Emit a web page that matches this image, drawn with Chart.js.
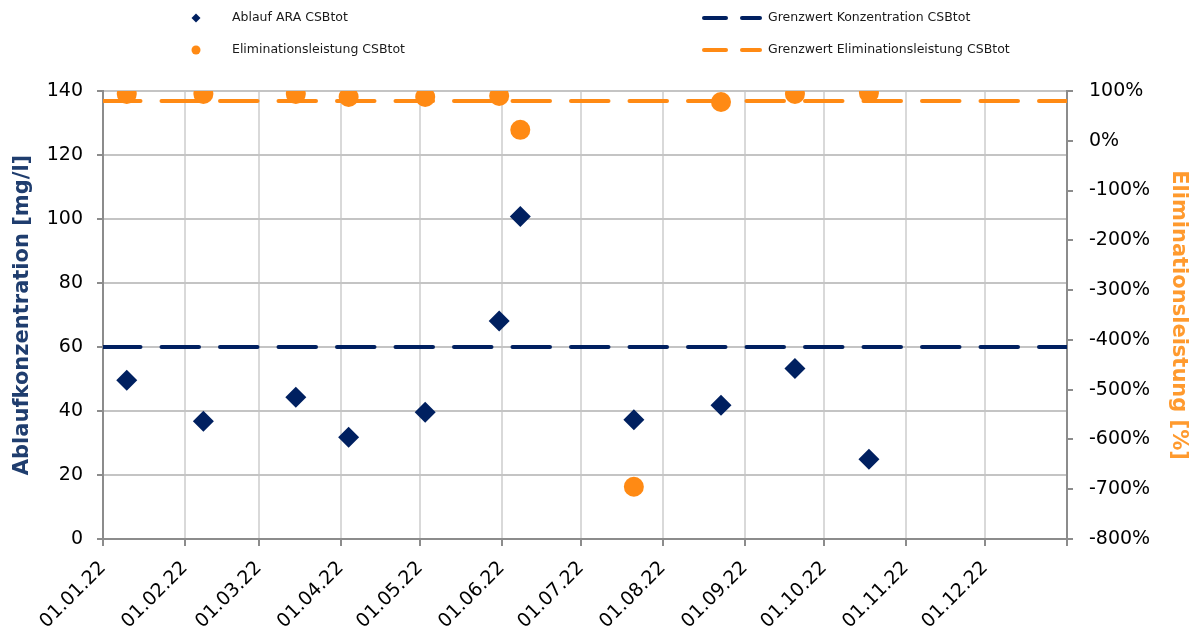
<!DOCTYPE html>
<html>
<head>
<meta charset="utf-8">
<script src="https://cdn.jsdelivr.net/npm/chart.js@4.4.1/dist/chart.umd.min.js"></script>
<style>
  body { margin: 0; background: #fff; }
  #wrap { position: relative; width: 1194px; height: 635px; }
</style>
</head>
<body>
<div id="wrap"><canvas id="csb-canvas"></canvas></div>
<script>
// Probenahmedaten (dd.mm.yy)
const sampleDates = ['10.01.22', '08.02.22', '15.03.22', '04.04.22', '03.05.22', '31.05.22',
  '08.06.22', '21.07.22', '23.08.22', '20.09.22', '18.10.22']
const ablaufCSB = [49.6, 36.8, 44.3, 31.8, 39.6, 68.1, 100.8, 37.3, 41.8, 53.3, 24.9]
const eliminationCSB = [94, 94, 94, 88, 88, 90, 22, -695, 78, 94, 96]

const grenzwertKonzentration = 60
const grenzwertElimination = 80

const monthLabels = ['01.01.22', '01.02.22', '01.03.22', '01.04.22', '01.05.22', '01.06.22',
  '01.07.22', '01.08.22', '01.09.22', '01.10.22', '01.11.22', '01.12.22']
const yearEnd = '01.01.23'

const NAVY = '#002060'
const ORANGE = '#ff8a14'
const FONT = '"DejaVu Sans", sans-serif'

function dayOfYear(s){
  const p = s.split('.')
  const t = Date.UTC(2000 + parseInt(p[2]), parseInt(p[1]) - 1, parseInt(p[0]))
  return Math.round((t - Date.UTC(2022, 0, 1)) / 86400000)
}

const xTicks = monthLabels.map(dayOfYear).concat([dayOfYear(yearEnd)])
const xMax = dayOfYear(yearEnd)

const ablaufPoints = sampleDates.map((d, i) => ({x: dayOfYear(d), y: ablaufCSB[i]}))
const elimPoints = sampleDates.map((d, i) => ({x: dayOfYear(d), y: eliminationCSB[i]}))

// Legende in zwei Spalten
const gridLegend = {
  id: 'gridLegend',
  afterDraw(chart){
    const ctx = chart.ctx
    ctx.save()
    ctx.font = '12.5px ' + FONT
    ctx.textBaseline = 'middle'
    ctx.textAlign = 'left'
    // diamond
    ctx.fillStyle = NAVY
    ctx.beginPath()
    ctx.moveTo(196, 13.5); ctx.lineTo(200.5, 18); ctx.lineTo(196, 22.5); ctx.lineTo(191.5, 18)
    ctx.closePath(); ctx.fill()
    // circle
    ctx.fillStyle = ORANGE
    ctx.beginPath(); ctx.arc(196, 50, 4.5, 0, Math.PI * 2); ctx.fill()
    ctx.fillStyle = '#1a1a1a'
    ctx.fillText('Ablauf ARA CSBtot', 232, 18)
    ctx.fillText('Eliminationsleistung CSBtot', 232, 50)
    // dashed lines
    ctx.lineWidth = 4
    ctx.lineCap = 'round'
    const dashes = [[704, 726], [742, 760]]
    ;[[18, NAVY], [50, ORANGE]].forEach(([y, c]) => {
      ctx.strokeStyle = c
      dashes.forEach(([a, b]) => {
        ctx.beginPath(); ctx.moveTo(a, y); ctx.lineTo(b, y); ctx.stroke()
      })
    })
    ctx.fillStyle = '#1a1a1a'
    ctx.fillText('Grenzwert Konzentration CSBtot', 768, 18)
    ctx.fillText('Grenzwert Eliminationsleistung CSBtot', 768, 50)
    ctx.restore()
  }
}

const canvas = document.getElementById('csb-canvas')
new Chart(canvas, {
  type: 'scatter',
  data: {
    datasets: [{
      label: 'Ablauf ARA CSBtot',
      data: ablaufPoints,
      yAxisID: 'y',
      pointStyle: 'rectRot',
      pointRadius: 10.5,
      backgroundColor: NAVY,
      borderColor: NAVY,
      borderWidth: 0,
      order: 0
    }, {
      label: 'Eliminationsleistung CSBtot',
      data: elimPoints,
      yAxisID: 'y2',
      pointStyle: 'circle',
      pointRadius: 10,
      backgroundColor: ORANGE,
      borderColor: ORANGE,
      borderWidth: 0,
      order: 0
    }, {
      type: 'line',
      label: 'Grenzwert Konzentration CSBtot',
      data: [{x: 0, y: grenzwertKonzentration}, {x: xMax, y: grenzwertKonzentration}],
      yAxisID: 'y',
      borderColor: NAVY,
      borderWidth: 4,
      borderDash: [37.5, 21],
      borderCapStyle: 'round',
      pointRadius: 0,
      order: 1
    }, {
      type: 'line',
      label: 'Grenzwert Eliminationsleistung CSBtot',
      data: [{x: 0, y: grenzwertElimination}, {x: xMax, y: grenzwertElimination}],
      yAxisID: 'y2',
      borderColor: ORANGE,
      borderWidth: 4,
      borderDash: [37.5, 21],
      borderCapStyle: 'round',
      pointRadius: 0,
      order: 1
    }]
  },
  options: {
    responsive: true,
    maintainAspectRatio: false,
    animation: false,
    layout: {
      padding: {top: 91, left: 0, right: 0, bottom: 0}
    },
    plugins: {
      legend: {display: false},
      tooltip: {enabled: false}
    },
    scales: {
      x: {
        type: 'linear',
        min: 0,
        max: xMax,
        afterBuildTicks: (scale) => {
          scale.ticks = xTicks.map(v => ({value: v}))
        },
        afterFit: (scale) => { scale.height = 96 },
        ticks: {
          autoSkip: false,
          minRotation: 45,
          maxRotation: 45,
          padding: 11,
          color: '#000',
          font: {family: FONT, size: 19},
          callback: (value, index) => monthLabels[index] || ''
        },
        grid: {color: '#d9d9d9', lineWidth: 2, tickLength: 7, tickColor: '#8c8c8c'},
        border: {color: '#8c8c8c', width: 2}
      },
      y: {
        position: 'left',
        min: 0,
        max: 140,
        afterFit: (scale) => { scale.width = 103 },
        ticks: {
          stepSize: 20,
          padding: 14,
          color: '#000',
          font: {family: FONT, size: 19}
        },
        grid: {color: '#c4c4c4', lineWidth: 2, tickLength: 6, tickColor: '#8c8c8c'},
        border: {color: '#8c8c8c', width: 2},
        title: {
          display: true,
          text: 'Ablaufkonzentration [mg/l]',
          color: '#1f3d6e',
          font: {family: FONT, size: 21, weight: 'bold'},
          padding: {top: 10, bottom: 0}
        }
      },
      y2: {
        position: 'right',
        min: -800,
        max: 100,
        afterFit: (scale) => { scale.width = 127 },
        ticks: {
          stepSize: 100,
          padding: 16,
          color: '#000',
          font: {family: FONT, size: 19},
          callback: (value) => value + '%'
        },
        grid: {drawOnChartArea: false, tickLength: 6, tickColor: '#8c8c8c', lineWidth: 2},
        border: {color: '#8c8c8c', width: 2},
        title: {
          display: true,
          text: 'Eliminationsleistung [%]',
          color: '#ff9a2e',
          font: {family: FONT, size: 21, weight: 'bold'},
          padding: {top: 3, bottom: 0}
        }
      }
    }
  },
  plugins: [gridLegend]
})
</script>
</body>
</html>
